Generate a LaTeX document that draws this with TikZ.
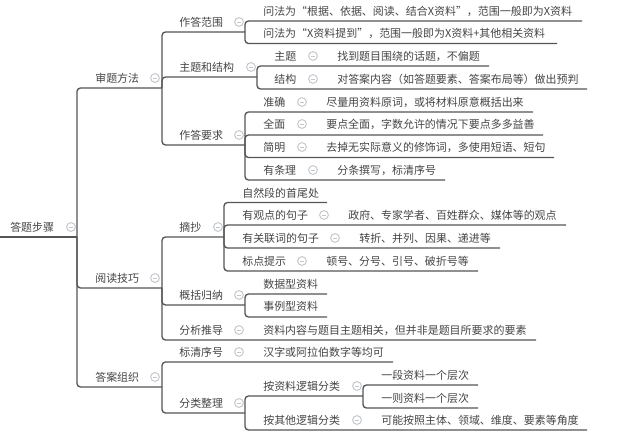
\documentclass[tikz,border=0pt]{standalone}
\usepackage{xcolor}
\usepackage{fontspec}
\setmainfont{Noto Sans CJK SC}
\definecolor{inkgray}{HTML}{444444}
\definecolor{linegray}{HTML}{555555}
\definecolor{foldgray}{HTML}{C4C8CC}
\tikzset{
    topic/.style={anchor=west, inner sep=0pt, text=inkgray, font=\fontsize{7.8pt}{9pt}\selectfont},
    branch/.style={draw=linegray, line width=0.95pt, rounded corners=2.5pt},
    fold/.style={circle, draw=foldgray, line width=0.7pt, fill=white, minimum size=0.22cm, inner sep=0pt,
        path picture={\draw[foldgray, line width=0.7pt] ([xshift=-1.6pt]path picture bounding box.center) -- ([xshift=1.6pt]path picture bounding box.center);}}
}
\begin{document}
\begin{tikzpicture}[x=0.025cm, y=-0.025cm]
    \useasboundingbox (0,0) rectangle (640,438);

    % Branch ends
    \coordinate (rootstart) at (0,237);
    \coordinate (root) at (77,237);
    \coordinate (review) at (162,88);
    \coordinate (reading) at (162,288);
    \coordinate (answer) at (162,387);

    \coordinate (range) at (245,32);
    \coordinate (theme) at (257,77);
    \coordinate (demand) at (245,145);
    \coordinate (range1) at (582,21);
    \coordinate (range2) at (557,43.5);
    \coordinate (theme1) at (489,66);
    \coordinate (theme2) at (587,89);
    \coordinate (demand1) at (533,112);
    \coordinate (demand2) at (543,135);
    \coordinate (demand3) at (554,157.5);
    \coordinate (demand4) at (445,180);

    \coordinate (excerpt) at (224,237);
    \coordinate (summary) at (245,305);
    \coordinate (infer) at (536,340);
    \coordinate (excerpt1) at (327,202.5);
    \coordinate (excerpt2) at (566,225);
    \coordinate (excerpt3) at (500,248);
    \coordinate (excerpt4) at (478,271);
    \coordinate (summary1) at (327,294);
    \coordinate (summary2) at (327,317);

    \coordinate (order) at (393,362);
    \coordinate (sort) at (245,413);
    \coordinate (sort1) at (363,396);
    \coordinate (sort2) at (587,430);
    \coordinate (sort11) at (478,385);
    \coordinate (sort12) at (478,408);

    % Connectors
    \draw[branch] (rootstart) -- (root);
    \foreach \kid in {review,reading,answer} \draw[branch] (root) |- (\kid);
    \foreach \kid in {range,theme,demand} \draw[branch] (review) |- (\kid);
    \foreach \kid in {excerpt,summary,infer} \draw[branch] (reading) |- (\kid);
    \foreach \kid in {order,sort} \draw[branch] (answer) |- (\kid);
    \foreach \kid in {range1,range2} \draw[branch] (range) |- (\kid);
    \foreach \kid in {theme1,theme2} \draw[branch] (theme) |- (\kid);
    \foreach \kid in {demand1,demand2,demand3,demand4} \draw[branch] (demand) |- (\kid);
    \foreach \kid in {excerpt1,excerpt2,excerpt3,excerpt4} \draw[branch] (excerpt) |- (\kid);
    \foreach \kid in {summary1,summary2} \draw[branch] (summary) |- (\kid);
    \foreach \kid in {sort1,sort2} \draw[branch] (sort) |- (\kid);
    \foreach \kid in {sort11,sort12} \draw[branch] (sort1) |- (\kid);

    % Main topics
    \node[topic] (roottext) at (10,227) {答题步骤};
    \node[fold] (rootfold) at (71,227) {};
    \node[topic] (reviewtext) at (95,78) {审题方法};
    \node[fold] (reviewfold) at (155,78) {};
    \node[topic] (readingtext) at (95,278) {阅读技巧};
    \node[fold] (readingfold) at (155,278) {};
    \node[topic] (answertext) at (95,377) {答案组织};
    \node[fold] (answerfold) at (155,377) {};

    % Review
    \node[topic] (rangetext) at (179,22) {作答范围};
    \node[fold] (rangefold) at (239,22) {};
    \node[topic] (range1text) at (263,11) {问法为“根据、依据、阅读、结合X资料”，范围一般即为X资料};
    \node[topic] (range2text) at (263,33) {问法为“X资料提到”，范围一般即为X资料+其他相关资料};
    \node[topic] (themetext) at (179,67) {主题和结构};
    \node[fold] (themefold) at (251,67) {};
    \node[topic] (theme1text) at (274,56) {主题};
    \node[fold] (theme1fold) at (313,56) {};
    \node[topic] (theme1note) at (337,56) {找到题目围绕的话题，不偏题};
    \node[topic] (theme2text) at (274,79) {结构};
    \node[fold] (theme2fold) at (313,79) {};
    \node[topic] (theme2note) at (337,79) {对答案内容（如答题要素、答案布局等）做出预判};
    \node[topic] (demandtext) at (179,135) {作答要求};
    \node[fold] (demandfold) at (239,135) {};
    \node[topic] (demand1text) at (263,102) {准确};
    \node[fold] (demand1fold) at (302,102) {};
    \node[topic] (demand1note) at (326,102) {尽量用资料原词，或将材料原意概括出来};
    \node[topic] (demand2text) at (263,124) {全面};
    \node[fold] (demand2fold) at (302,124) {};
    \node[topic] (demand2note) at (326,124) {要点全面，字数允许的情况下要点多多益善};
    \node[topic] (demand3text) at (263,147) {简明};
    \node[fold] (demand3fold) at (302,147) {};
    \node[topic] (demand3note) at (326,147) {去掉无实际意义的修饰词，多使用短语、短句};
    \node[topic] (demand4text) at (263,170) {有条理};
    \node[fold] (demand4fold) at (313,170) {};
    \node[topic] (demand4note) at (337,170) {分条撰写，标清序号};

    % Reading
    \node[topic] (excerpttext) at (179,227) {摘抄};
    \node[fold] (excerptfold) at (218,227) {};
    \node[topic] (excerpt1text) at (242,193) {自然段的首尾处};
    \node[topic] (excerpt2text) at (242,215) {有观点的句子};
    \node[fold] (excerpt2fold) at (324,215) {};
    \node[topic] (excerpt2note) at (348,215) {政府、专家学者、百姓群众、媒体等的观点};
    \node[topic] (excerpt3text) at (242,238) {有关联词的句子};
    \node[fold] (excerpt3fold) at (335,238) {};
    \node[topic] (excerpt3note) at (359,238) {转折、并列、因果、递进等};
    \node[topic] (excerpt4text) at (242,261) {标点提示};
    \node[fold] (excerpt4fold) at (302,261) {};
    \node[topic] (excerpt4note) at (326,261) {顿号、分号、引号、破折号等};
    \node[topic] (summarytext) at (179,295) {概括归纳};
    \node[fold] (summaryfold) at (239,295) {};
    \node[topic] (summary1text) at (263,284) {数据型资料};
    \node[topic] (summary2text) at (263,306) {事例型资料};
    \node[topic] (infertext) at (179,330) {分析推导};
    \node[fold] (inferfold) at (239,330) {};
    \node[topic] (infernote) at (263,330) {资料内容与题目主题相关，但并非是题目所要求的要素};

    % Answer
    \node[topic] (ordertext) at (179,352) {标清序号};
    \node[fold] (orderfold) at (239,352) {};
    \node[topic] (ordernote) at (263,352) {汉字或阿拉伯数字等均可};
    \node[topic] (sorttext) at (179,403) {分类整理};
    \node[fold] (sortfold) at (239,403) {};
    \node[topic] (sort1text) at (263,386) {按资料逻辑分类};
    \node[fold] (sort1fold) at (357,386) {};
    \node[topic] (sort11text) at (381,375) {一段资料一个层次};
    \node[topic] (sort12text) at (381,398) {一则资料一个层次};
    \node[topic] (sort2text) at (263,420) {按其他逻辑分类};
    \node[fold] (sort2fold) at (357,420) {};
    \node[topic] (sort2note) at (381,420) {可能按照主体、领域、维度、要素等角度};
\end{tikzpicture}
\end{document}
